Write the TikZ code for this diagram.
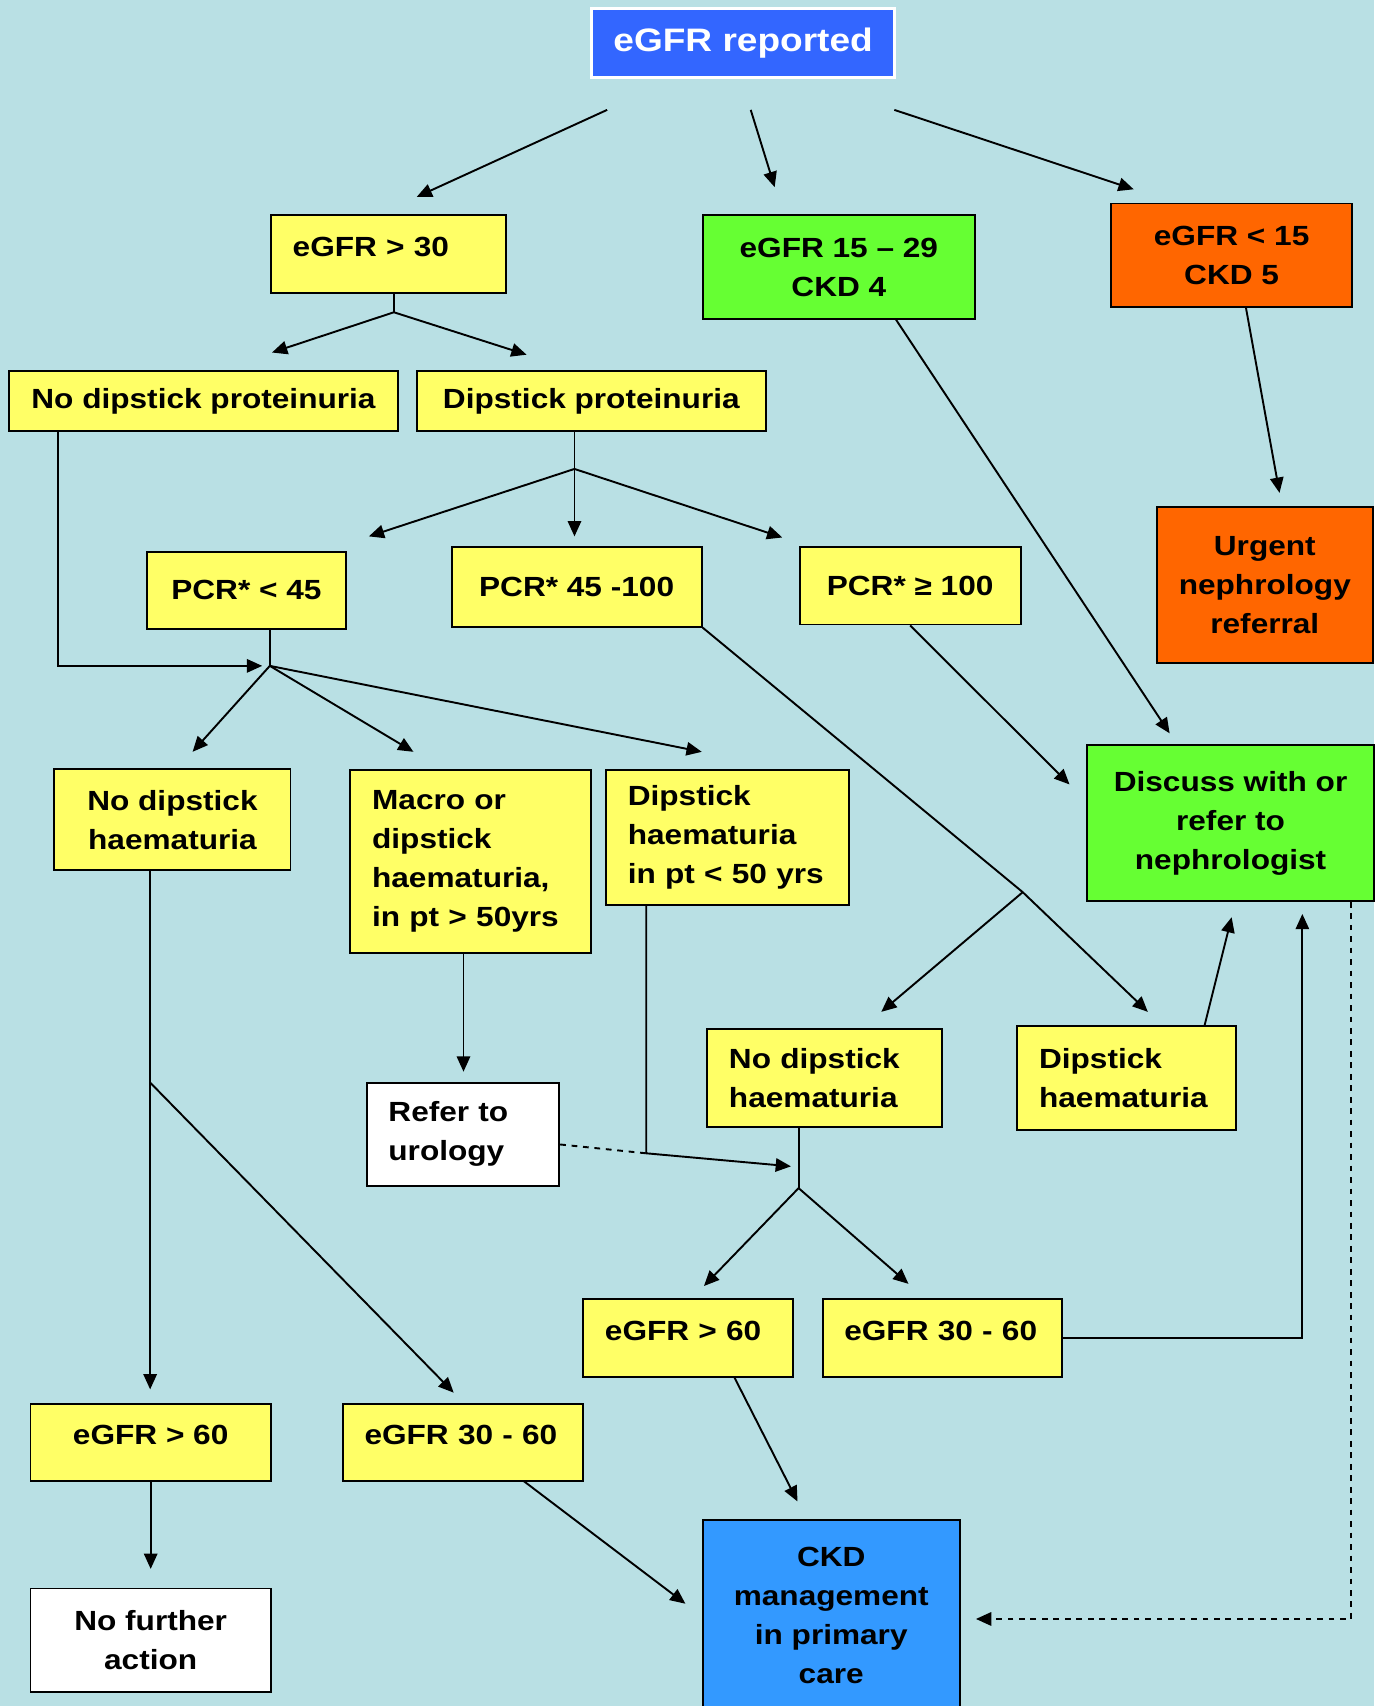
\documentclass[tikz,border=0pt]{standalone}
\usepackage{fontspec}
\setmainfont{Liberation Sans}[FakeStretch=1.14]
\usetikzlibrary{arrows.meta}

\definecolor{bgblue}{RGB}{185,224,228}
\definecolor{boxyellow}{RGB}{255,255,102}
\definecolor{boxgreen}{RGB}{102,255,51}
\definecolor{boxorange}{RGB}{255,102,0}
\definecolor{topblue}{RGB}{51,102,255}
\definecolor{gpblue}{RGB}{51,153,255}

\begin{document}
\begin{tikzpicture}[x=0.02cm, y=-0.02cm,
        box/.style={rectangle, draw=black, line width=1pt, inner sep=0pt, font=\fontsize{14.5}{20.4}\selectfont\bfseries},
        ybox/.style={box, fill=boxyellow},
        gbox/.style={box, fill=boxgreen},
        obox/.style={box, fill=boxorange},
        wbox/.style={box, fill=white},
        bbox/.style={box, fill=gpblue},
        topbox/.style={box, fill=topblue, draw=white, line width=1.5pt, text=white, font=\fontsize{17}{20}\selectfont\bfseries},
        boxsize/.style 2 args={minimum width=#1, minimum height=#2},
        lefttext/.style={align=left, inner xsep=0.4cm, text width=#1},
        uptext/.style={text depth=0.26cm},
        flow/.style={line width=1pt, -{Triangle[length=8pt,width=7pt]}},
        link/.style={line width=1pt},
    ]
    \useasboundingbox (0,0) rectangle (1263,1568);
    \fill[bgblue] (0,0) rectangle (1263,1568);

    \node[topbox, boxsize={5.56cm}{1.26cm}] (reported) at (683,39.5) {eGFR reported};

    \node[ybox, uptext, boxsize={4.32cm}{1.42cm}, lefttext=3.52cm] (gt30) at (357,233.5) {eGFR > 30};
    \node[gbox, boxsize={5cm}{1.9cm}, align=center] (ckd4) at (771,245.5) {eGFR 15 – 29\\CKD 4};
    \node[obox, boxsize={4.44cm}{1.9cm}, align=center] (ckd5) at (1132,234.5) {eGFR < 15\\CKD 5};
    \node[obox, boxsize={3.98cm}{2.86cm}, align=center] (urgent) at (1162.5,537.5) {Urgent\\nephrology\\referral};

    \node[ybox, boxsize={7.16cm}{1.1cm}] (noprot) at (187,368.5) {No dipstick proteinuria};
    \node[ybox, boxsize={6.42cm}{1.1cm}] (prot) at (543.5,368.5) {Dipstick proteinuria};

    \node[ybox, boxsize={3.66cm}{1.42cm}] (pcr45) at (226.5,542.5) {PCR* < 45};
    \node[ybox, boxsize={4.6cm}{1.46cm}] (pcr100) at (530,539.5) {PCR* 45 -100};
    \node[ybox, boxsize={4.06cm}{1.42cm}] (pcrhigh) at (836.5,538.5) {PCR* ≥ 100};
    \node[gbox, boxsize={5.28cm}{2.86cm}, align=center] (discuss) at (1131,756.5) {Discuss with or\\refer to\\nephrologist};

    \node[ybox, boxsize={4.34cm}{1.86cm}, align=center] (nohaemA) at (158.5,753.5) {No dipstick\\haematuria};
    \node[ybox, boxsize={4.42cm}{3.36cm}, lefttext=3.62cm] (macro) at (432.5,792) {Macro or\\dipstick\\haematuria,\\in pt > 50yrs};
    \node[ybox, boxsize={4.46cm}{2.48cm}, lefttext=3.66cm] (haemyoung) at (668.5,770) {Dipstick\\haematuria\\in pt < 50 yrs};

    \node[wbox, boxsize={3.54cm}{1.9cm}, lefttext=2.74cm] (urology) at (425.5,1042.5) {Refer to\\urology};
    \node[ybox, boxsize={4.32cm}{1.8cm}, lefttext=3.52cm] (nohaemB) at (758,991) {No dipstick\\haematuria};
    \node[ybox, boxsize={4.02cm}{1.92cm}, lefttext=3.22cm] (haemB) at (1035.5,991) {Dipstick\\haematuria};

    \node[ybox, uptext, boxsize={3.86cm}{1.44cm}, lefttext=3.06cm] (gt60B) at (632.5,1230) {eGFR > 60};
    \node[ybox, uptext, boxsize={4.4cm}{1.44cm}, lefttext=3.6cm] (midB) at (866,1230) {eGFR 30 - 60};
    \node[ybox, uptext, boxsize={4.42cm}{1.42cm}] (gt60A) at (138.5,1325.5) {eGFR > 60};
    \node[ybox, uptext, boxsize={4.42cm}{1.42cm}, lefttext=3.62cm] (midA) at (425.5,1325.5) {eGFR 30 - 60};

    \node[wbox, boxsize={4.42cm}{1.9cm}, align=center] (nofurther) at (138.5,1507.5) {No further\\action};
    \node[bbox, boxsize={4.72cm}{3.5cm}, align=center] (primary) at (764,1484.5) {CKD\\management\\in primary\\care};

    % split points and free arrow ends
    \coordinate (topL) at (558,101);
    \coordinate (topM) at (690,101);
    \coordinate (topR) at (822,101);
    \coordinate (j30) at (362,287);
    \coordinate (jprot) at (528,431);
    \coordinate (jnoprot) at (53,612);
    \coordinate (j45) at (248,612);
    \coordinate (jmid) at (940,820);
    \coordinate (jhaemA) at (138,995);
    \coordinate (jyoung) at (594,1060);
    \coordinate (jhaemB) at (734,1092);
    \coordinate (dashturn) at (1242,1488);
    \coordinate (endA) at (138.5,1442);

    \draw[flow] (topL) -- (383,181);
    \draw[flow] (topM) -- (712,172);
    \draw[flow] (topR) -- (1042,174);

    \draw[link] (gt30.south -| j30) -- (j30);
    \draw[flow] (j30) -- (250,324);
    \draw[flow] (j30) -- (484,326);

    \draw[flow] (823,293) -- (1075,674);
    \draw[flow] (1145,282) -- (1176,453);

    \draw[link] (prot.south -| jprot) -- (jprot);
    \draw[flow] (jprot) -- (339,493);
    \draw[flow] (jprot) -- (528,493);
    \draw[flow] (jprot) -- (719,494);

    \draw[flow] (noprot.south -| jnoprot) -- (jnoprot) -- (241,612);
    \draw[link] (pcr45.south -| j45) -- (j45);
    \draw[flow] (j45) -- (177,691);
    \draw[flow] (j45) -- (380,691);
    \draw[flow] (j45) -- (645,691);

    \draw[link] (pcr100.south east) -- (jmid);
    \draw[flow] (jmid) -- (810,930);
    \draw[flow] (jmid) -- (1055,930);
    \draw[flow] (pcrhigh.south) -- (983,721);

    \draw[flow] (1107,943) -- (1132,843);
    \draw[flow] (midB.east) -| (1197,840);
    \draw[flow, dashed] (discuss.south -| dashturn) -- (dashturn) -- (897,1488);

    \draw[flow] (nohaemA.south -| jhaemA) -- (138,1277);
    \draw[flow] (jhaemA) -- (417,1280);
    \draw[flow] (macro.south -| 426,0) -- (426,985);
    \draw[flow] (haemyoung.south -| jyoung) -- (jyoung) -- (727,1072);
    \draw[link, dashed] (urology.-6) -- (jyoung);

    \draw[link] (nohaemB.south -| jhaemB) -- (jhaemB);
    \draw[flow] (jhaemB) -- (647,1182);
    \draw[flow] (jhaemB) -- (835,1180);

    \draw[flow] (675,1266) -- (733,1380);
    \draw[flow] (481,1361) -- (630,1474);
    \draw[flow] (gt60A.south) -- (endA);
\end{tikzpicture}
\end{document}
